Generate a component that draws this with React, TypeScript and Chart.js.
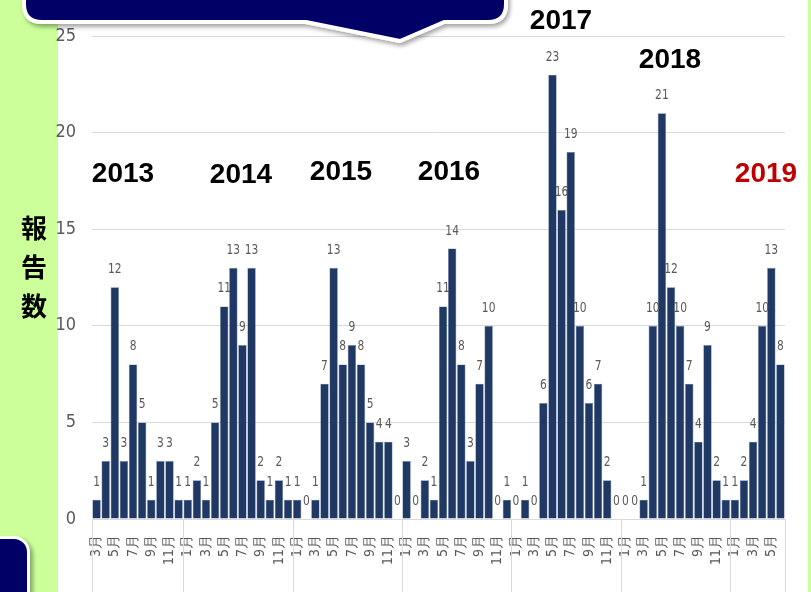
import React, { useEffect, useRef } from 'react';
import { Chart, registerables } from 'chart.js';
Chart.register(...registerables);

// ---- data ----
const yearList = [2013, 2014, 2015, 2016, 2017, 2018, 2019];
const firstMonths = [3, 1, 1, 1, 1, 1, 1];
const values2013 = [1, 3, 12, 3, 8, 5, 1, 3, 3, 1];
const values2014 = [1, 2, 1, 5, 11, 13, 9, 13, 2, 1, 2, 1];
const values2015 = [1, 0, 1, 7, 13, 8, 9, 8, 5, 4, 4, 0];
const values2016 = [3, 0, 2, 1, 11, 14, 8, 3, 7, 10, 0, 1];
const values2017 = [0, 1, 0, 6, 23, 16, 19, 10, 6, 7, 2, 0];
const values2018 = [0, 0, 1, 10, 21, 12, 10, 7, 4, 9, 2, 1];
const values2019 = [1, 2, 4, 10, 13, 8];
const yearValues = [values2013, values2014, values2015, values2016, values2017, values2018, values2019];
const yTicks = [0, 5, 10, 15, 20, 25];
const yTitle = ['報', '告', '数'];

const months: number[] = [];
const monthLabels: string[] = [];
const values: number[] = [];
yearValues.forEach((arr, yi) => {
  arr.forEach((v, k) => {
    const m = firstMonths[yi] + k;
    months.push(m);
    monthLabels.push(m + '月');
    values.push(v);
  });
});

// ---- style / layout ----
const NARROW = '"Liberation Sans Narrow", "DejaVu Sans Condensed", "Liberation Sans", sans-serif';
const yearLabelStyle = [
  { x: 123, y: 174, color: '#000000' },
  { x: 241, y: 175, color: '#000000' },
  { x: 341, y: 172, color: '#000000' },
  { x: 449, y: 172, color: '#000000' },
  { x: 561, y: 21, color: '#000000' },
  { x: 670, y: 60, color: '#000000' },
  { x: 766, y: 174, color: '#c00000' },
];

const dataLabelPlugin = {
  id: 'dataLabels',
  afterDatasetsDraw(chart: any) {
    const ctx = chart.ctx;
    const meta = chart.getDatasetMeta(0);
    ctx.save();
    ctx.font = '14px ' + NARROW;
    ctx.fillStyle = '#595959';
    ctx.textAlign = 'center';
    ctx.textBaseline = 'alphabetic';
    meta.data.forEach((bar: any, i: number) => {
      ctx.save();
      ctx.translate(bar.x, bar.y - 14);
      ctx.scale(0.85, 1);
      ctx.fillText(String(values[i]), 0, 0);
      ctx.restore();
    });
    ctx.restore();
  },
};

const yearLabelPlugin = {
  id: 'yearLabels',
  afterDraw(chart: any) {
    const ctx = chart.ctx;
    ctx.save();
    ctx.font = 'bold 28px "Liberation Sans", Arial, sans-serif';
    ctx.textAlign = 'center';
    ctx.textBaseline = 'middle';
    yearList.forEach((y, i) => {
      const s = yearLabelStyle[i];
      ctx.fillStyle = s.color;
      ctx.fillText(String(y), s.x, s.y);
    });
    ctx.restore();
  },
};

const separatorPlugin = {
  id: 'yearSeparators',
  afterDraw(chart: any) {
    const ctx = chart.ctx;
    const xs = chart.scales.x;
    const area = chart.chartArea;
    const half = (xs.getPixelForValue(1) - xs.getPixelForValue(0)) / 2;
    ctx.save();
    ctx.strokeStyle = '#d9d9d9';
    ctx.lineWidth = 1;
    const draw = (px: number) => {
      ctx.beginPath();
      ctx.moveTo(Math.round(px) + 0.5, area.bottom);
      ctx.lineTo(Math.round(px) + 0.5, chart.height);
      ctx.stroke();
    };
    months.forEach((m, i) => {
      if (i === 0 || m === 1) draw(xs.getPixelForValue(i) - half);
    });
    draw(xs.getPixelForValue(months.length - 1) + half);
    ctx.restore();
  },
};

function BarChart() {
  const ref = useRef<HTMLCanvasElement | null>(null);
  useEffect(() => {
    if (!ref.current) return;
    const chart = new Chart(ref.current, {
      type: 'bar',
      data: {
        labels: monthLabels,
        datasets: [
          {
            data: values,
            backgroundColor: '#203864',
            borderColor: '#6b7fa6',
            borderWidth: 0.6,
            categoryPercentage: 1,
            barPercentage: 0.92,
          },
        ],
      },
      options: {
        responsive: false,
        animation: false,
        layout: { padding: { top: 36, right: 26, left: 0, bottom: 0 } },
        plugins: { legend: { display: false }, tooltip: { enabled: false } },
        scales: {
          x: {
            grid: { display: false },
            border: { display: false },
            ticks: {
              autoSkip: false,
              maxRotation: 90,
              minRotation: 90,
              color: '#595959',
              font: { size: 14, family: NARROW },
              padding: 8,
              callback: (_v: any, i: number) => (months[i] % 2 === 1 ? monthLabels[i] : ''),
            },
            afterFit: (s: any) => {
              s.height = 73;
            },
          },
          y: {
            min: 0,
            max: 25,
            afterBuildTicks: (s: any) => {
              s.ticks = yTicks.map((v) => ({ value: v }));
            },
            grid: { color: '#d9d9d9', drawTicks: false },
            border: { display: false },
            ticks: {
              color: '#595959',
              font: { size: 18, family: NARROW },
              padding: 16,
            },
            afterFit: (s: any) => {
              s.width = 92;
            },
          },
        },
      },
      plugins: [dataLabelPlugin, separatorPlugin, yearLabelPlugin],
    });
    return () => chart.destroy();
  }, []);
  return (
    <canvas
      ref={ref}
      width={811}
      height={592}
      style={{ position: 'absolute', left: 0, top: 0, width: 811, height: 592 }}
    />
  );
}

export default function App() {
  return (
    <div
      style={{
        position: 'fixed',
        left: 0,
        top: 0,
        width: 811,
        height: 592,
        overflow: 'hidden',
        background: '#ccff99',
      }}
    >
      <div style={{ position: 'absolute', left: 58, top: 0, width: 750, height: 592, background: '#ffffff' }} />
      <BarChart />
      <div
        style={{
          position: 'absolute',
          left: 18,
          top: 207,
          width: 32,
          fontFamily: '"Noto Sans CJK JP", sans-serif',
          fontWeight: 'bold',
          fontSize: 26,
          lineHeight: '39px',
          textAlign: 'center',
          color: '#000',
        }}
      >
        {yTitle.map((c) => (
          <div key={c}>{c}</div>
        ))}
      </div>
      <svg
        width={811}
        height={60}
        style={{ position: 'absolute', left: 0, top: 0, pointerEvents: 'none', overflow: 'visible' }}
      >
        <defs>
          <filter id="sh" x="-10%" y="-50%" width="120%" height="200%">
            <feDropShadow dx="2" dy="3" stdDeviation="2" floodColor="#000" floodOpacity="0.35" />
          </filter>
        </defs>
        <path
          d="M 24,-30 L 506,-30 L 506,4 Q 506,22 488,22 L 444,22 L 400,41 L 306,22 L 42,22 Q 24,22 24,4 Z"
          fill="#000066"
          stroke="#ffffff"
          strokeWidth={4}
          strokeLinejoin="round"
          filter="url(#sh)"
        />
      </svg>
      <div
        style={{
          position: 'absolute',
          left: -24,
          top: 536,
          width: 48,
          height: 90,
          background: '#000066',
          border: '3px solid #ffffff',
          borderRadius: 16,
          boxShadow: '3px 3px 4px rgba(0,0,0,0.35)',
        }}
      />
    </div>
  );
}
